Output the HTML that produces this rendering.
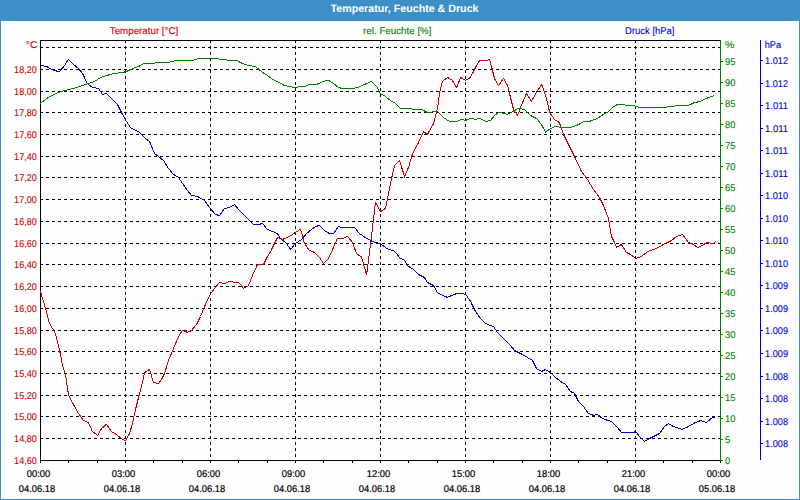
<!DOCTYPE html>
<html><head><meta charset="utf-8"><title>Temperatur, Feuchte &amp; Druck</title>
<style>
html,body{margin:0;padding:0;background:#fdfefd;overflow:hidden}
body{width:800px;height:500px;position:relative;font-family:"Liberation Sans",sans-serif;font-size:9.5px}
svg{position:absolute;left:0;top:0;display:block}
text{font-family:"Liberation Sans",sans-serif;font-size:9.8px;text-rendering:geometricPrecision}
.r{fill:#cc0000;stroke:#cc0000}.g{fill:#008000;stroke:#008000}.b{fill:#0000d0;stroke:#0000d0}.k{fill:#000;stroke:#000;stroke-width:0.2px}
text{stroke-width:0.1px}
.t{fill:#fff;font-weight:bold;font-size:10.7px}
</style></head><body>
<svg width="800" height="500" viewBox="0 0 800 500">
<rect x="0" y="0" width="800" height="500" fill="#fdfefd"/>
<g shape-rendering="crispEdges">
<rect x="0" y="0" width="800" height="21" fill="#3c8fc7"/>
<rect x="0" y="0" width="1" height="500" fill="#3c8fc7"/>
<rect x="799" y="0" width="1" height="500" fill="#3c8fc7"/>
<rect x="0" y="499" width="800" height="1" fill="#3c8fc7"/>
<path d="M40 438.5H720M40 416.5H720M40 395.5H720M40 373.5H720M40 351.5H720M40 330.5H720M40 308.5H720M40 286.5H720M40 264.5H720M40 243.5H720M40 221.5H720M40 199.5H720M40 177.5H720M40 156.5H720M40 134.5H720M40 112.5H720M40 91.5H720M40 69.5H720M40 47.5H720" stroke="#000" stroke-width="1" stroke-dasharray="3 3" fill="none"/>
<path d="M125.5 40V460M210.5 40V460M295.5 40V460M380.5 40V460M465.5 40V460M550.5 40V460M635.5 40V460" stroke="#000" stroke-width="1" stroke-dasharray="3 3" fill="none"/>
<path d="M40.5 40V461M40 40.5H720M40 460.5H721" stroke="#000" stroke-width="1" fill="none"/>
<path d="M40.5 460V463M68.5 460V463M97.5 460V463M125.5 460V463M153.5 460V463M182.5 460V463M210.5 460V463M238.5 460V463M267.5 460V463M295.5 460V463M323.5 460V463M352.5 460V463M380.5 460V463M408.5 460V463M437.5 460V463M465.5 460V463M493.5 460V463M522.5 460V463M550.5 460V463M578.5 460V463M607.5 460V463M635.5 460V463M663.5 460V463M692.5 460V463M720.5 460V463" stroke="#000" stroke-width="1" fill="none"/>
<path d="M720.5 40V460M720 460.5H723M720 439.5H723M720 418.5H723M720 397.5H723M720 376.5H723M720 355.5H723M720 334.5H723M720 313.5H723M720 292.5H723M720 271.5H723M720 250.5H723M720 229.5H723M720 208.5H723M720 187.5H723M720 166.5H723M720 145.5H723M720 124.5H723M720 103.5H723M720 82.5H723M720 61.5H723" stroke="#008000" stroke-width="1" fill="none"/>
<path d="M760.5 40V460M760 60.5H763M760 83.5H763M760 105.5H763M760 128.5H763M760 150.5H763M760 173.5H763M760 195.5H763M760 218.5H763M760 240.5H763M760 263.5H763M760 285.5H763M760 308.5H763M760 330.5H763M760 353.5H763M760 376.5H763M760 398.5H763M760 421.5H763M760 443.5H763" stroke="#0000d0" stroke-width="1" fill="none"/>
</g>
<polyline points="40.5,291.5 45.5,308.5 49.5,323.5 55.5,333.5 60.5,354.5 62.5,365.5 65.5,374.5 68.6,395.5 73.5,404.5 78.5,413.5 83.5,420.5 88.5,422.6 92.4,431.5 97.6,435.4 101.5,428.6 106.4,424.4 111.5,431.5 116.5,434.6 122.5,439.4 125.6,440.6 129.5,433.5 132.5,423.5 135.5,409.5 139.5,393.5 142.5,382.5 144.6,372.6 149.6,369.4 153.4,382.5 158.5,383.4 161.5,379.5 164.5,373.5 168.5,360.5 173.5,348.5 178.5,336.5 182.4,330.4 187.5,332.4 191.5,330.5 196.5,324.5 200.5,316.5 204.5,306.5 210.6,293.5 215.5,287.5 219.4,282.4 224.5,283.6 229.5,281.2 234.5,282.4 238.6,282.4 243.6,288.4 248.5,285.6 252.5,275.5 257.5,264.4 263.5,264.5 266.5,258.5 270.6,251.5 274.5,243.5 277.5,237.4 282.5,239.4 289.5,236.5 295.5,232.4 300.6,229.2 304.5,243.5 309.5,250.5 314.5,252.4 319.5,257.5 323.6,263.6 328.5,258.5 333.5,247.5 337.4,238.4 343.5,238.4 347.4,236.4 352.5,242.4 356.5,253.6 361.4,256.8 366.6,274.8 371.3,238.5 375.4,202.4 380.6,211.5 385.6,208.4 387.4,199.5 390.6,182.5 394.6,165.5 399.4,160.4 404.6,176.4 408.5,167.5 412.6,153.5 418.5,142.5 423.5,131.6 427.4,134.5 433.5,123.6 436.5,112.5 437.5,108.5 439.6,92.5 442.5,81.5 447.5,77.4 452.5,80.5 456.6,87.6 460.6,77.4 465.6,80.5 470.5,77.4 475.5,67.5 479.6,60.5 486.5,60.5 489.5,59.4 491.5,66.5 494.5,78.5 498.4,85.6 503.6,78.4 507.6,85.5 510.5,97.5 513.5,109.5 517.6,115.4 521.6,104.8 526.4,93.4 531.4,101.4 536.5,92.2 541.6,84.4 545.5,95.2 549.8,112.6 554.5,119.5 558.8,122.2 560.6,125.8 563.6,134.8 569.5,146.5 575.5,158.5 581.5,171.5 587.5,179.5 593.5,189.5 599.5,197.5 603.5,205.5 608.5,218.5 611.5,236.5 614.5,242.4 616.6,247.4 621.4,244.4 626.5,252.5 630.5,254.5 635.6,258.4 641.5,256.5 647.5,251.6 656.5,248.4 663.5,244.4 671.5,240.5 676.5,236.5 682.5,234.5 688.5,242.5 693.5,244.4 697.5,247.6 702.5,245.5 706.5,242.4 713.5,243.5 715.5,241.4" fill="none" stroke="#cc0000" stroke-width="1" shape-rendering="crispEdges"/>
<polyline points="40.5,103.5 46.5,98.6 51.5,95.6 58.5,92.4 64.5,90.5 73.5,88.5 82.5,85.6 88.5,83.5 94.5,81.5 100.5,77.6 106.5,75.6 113.5,73.5 122.5,72.5 126.5,71.5 132.5,68.6 138.5,66.5 144.5,63.4 152.5,63.4 158.5,62.4 168.5,62.5 176.5,60.4 192.5,60.5 195.5,59.4 200.5,58.4 216.5,58.4 220.5,59.4 225.5,59.4 228.5,60.4 236.5,60.4 242.5,63.5 248.5,65.4 255.5,66.6 261.5,71.6 267.5,75.5 272.5,79.4 277.5,81.6 284.5,85.5 289.5,86.5 295.5,87.6 299.5,86.6 305.5,86.4 309.5,84.4 316.5,84.4 323.5,81.4 328.5,80.4 333.5,83.5 338.5,87.6 342.5,88.4 353.5,88.4 357.5,87.5 364.5,84.5 371.5,81.4 376.5,86.4 380.5,93.6 385.5,96.5 391.5,101.5 394.5,102.4 400.5,108.4 410.5,108.4 413.5,109.4 421.5,109.4 427.5,112.5 437.5,111.4 443.5,117.5 449.5,121.5 456.5,121.5 461.5,119.5 465.5,120.4 470.6,118.4 475.5,119.4 479.5,118.4 485.5,121.4 490.5,120.5 495.5,114.5 499.5,112.4 507.5,114.5 512.5,111.6 518.5,108.4 524.5,109.4 530.5,115.5 536.5,118.5 541.5,124.5 545.6,132.4 550.5,128.5 555.5,126.5 562.5,127.4 570.5,127.4 576.5,125.5 584.5,121.4 589.5,121.4 597.5,118.4 603.5,114.4 608.5,111.6 612.5,107.5 617.5,104.4 623.5,104.4 626.5,105.4 633.5,105.4 639.5,107.4 665.5,107.4 668.5,106.4 674.5,106.4 676.5,105.4 688.5,105.4 694.5,102.6 700.5,101.4 706.5,98.4 711.5,96.5 714.4,95.4" fill="none" stroke="#008000" stroke-width="1" shape-rendering="crispEdges"/>
<polyline points="40.5,65.4 46.5,66.4 53.5,70.4 59.5,71.6 64.5,65.6 68.4,59.4 73.5,64.5 78.5,68.5 82.5,73.5 87.4,83.5 92.5,87.5 98.5,88.4 102.5,94.4 106.5,93.5 111.5,98.5 117.5,104.5 121.5,112.5 126.5,121.5 130.5,127.6 138.5,131.6 145.5,138.5 149.6,141.5 154.5,153.5 158.5,156.5 163.5,160.5 168.5,168.5 173.5,174.5 178.5,177.4 182.5,183.5 187.5,190.5 191.6,195.5 197.5,196.4 204.5,200.5 209.5,207.5 215.5,214.5 219.5,215.5 224.5,208.4 229.5,207.5 234.4,204.6 239.5,210.5 248.5,219.6 253.5,224.5 258.5,224.5 262.5,223.5 267.5,229.5 272.5,231.5 277.5,233.6 280.5,238.5 286.5,243.5 290.6,249.4 295.5,243.5 301.5,239.5 306.5,233.6 311.5,229.5 315.5,226.5 319.5,225.5 324.5,230.5 329.5,233.6 333.5,233.5 338.5,226.4 341.5,227.4 354.5,227.4 359.5,233.5 365.5,237.6 372.5,241.5 380.6,243.6 386.5,248.4 394.6,251.2 399.5,257.5 404.5,260.5 408.5,266.4 413.5,269.5 418.5,274.5 424.5,277.5 427.4,282.5 433.5,285.5 437.5,292.5 442.5,295.5 447.5,297.4 451.5,295.6 456.5,293.6 463.5,293.6 466.5,295.5 470.6,301.5 475.5,311.5 480.5,318.5 485.5,323.5 493.5,326.6 497.5,332.5 509.5,344.5 514.5,350.4 520.5,353.5 527.5,357.5 532.5,360.5 536.5,368.5 541.5,371.5 545.5,369.5 550.5,372.6 555.5,377.5 560.5,381.4 565.5,384.5 570.5,391.5 574.5,393.4 578.5,401.5 583.5,406.6 588.5,413.5 593.5,415.4 597.5,414.4 602.5,418.5 607.5,420.4 611.6,421.4 616.5,426.4 621.6,432.4 633.5,432.4 635.6,431.5 640.5,437.5 644.4,441.4 649.5,438.5 659.5,433.5 664.5,426.5 668.4,423.6 673.5,426.5 682.5,429.4 688.5,426.5 695.5,422.5 700.5,420.6 706.5,422.5 712.5,417.4 715.5,417.5" fill="none" stroke="#0000d0" stroke-width="1" shape-rendering="crispEdges"/>
<text class="t" x="404.5" y="12" text-anchor="middle" textLength="148" lengthAdjust="spacingAndGlyphs">Temperatur, Feuchte &amp; Druck</text>
<text class="r" x="144" y="33.8" text-anchor="middle" textLength="68.5" lengthAdjust="spacingAndGlyphs">Temperatur [°C]</text>
<text class="g" x="397.3" y="33.8" text-anchor="middle" textLength="68.4" lengthAdjust="spacingAndGlyphs">rel. Feuchte [%]</text>
<text class="b" x="649.8" y="33.8" text-anchor="middle" textLength="49.4" lengthAdjust="spacingAndGlyphs">Druck [hPa]</text>
<text class="r" x="37.3" y="47.8" text-anchor="end" textLength="11.5" lengthAdjust="spacingAndGlyphs">°C</text>
<text class="r" x="36.8" y="72.9" text-anchor="end" textLength="22.7" lengthAdjust="spacingAndGlyphs">18,20</text>
<text class="r" x="36.8" y="94.9" text-anchor="end" textLength="22.7" lengthAdjust="spacingAndGlyphs">18,00</text>
<text class="r" x="36.8" y="115.9" text-anchor="end" textLength="22.7" lengthAdjust="spacingAndGlyphs">17,80</text>
<text class="r" x="36.8" y="137.9" text-anchor="end" textLength="22.7" lengthAdjust="spacingAndGlyphs">17,60</text>
<text class="r" x="36.8" y="159.9" text-anchor="end" textLength="22.7" lengthAdjust="spacingAndGlyphs">17,40</text>
<text class="r" x="36.8" y="180.9" text-anchor="end" textLength="22.7" lengthAdjust="spacingAndGlyphs">17,20</text>
<text class="r" x="36.8" y="202.9" text-anchor="end" textLength="22.7" lengthAdjust="spacingAndGlyphs">17,00</text>
<text class="r" x="36.8" y="224.9" text-anchor="end" textLength="22.7" lengthAdjust="spacingAndGlyphs">16,80</text>
<text class="r" x="36.8" y="246.9" text-anchor="end" textLength="22.7" lengthAdjust="spacingAndGlyphs">16,60</text>
<text class="r" x="36.8" y="267.9" text-anchor="end" textLength="22.7" lengthAdjust="spacingAndGlyphs">16,40</text>
<text class="r" x="36.8" y="289.9" text-anchor="end" textLength="22.7" lengthAdjust="spacingAndGlyphs">16,20</text>
<text class="r" x="36.8" y="311.9" text-anchor="end" textLength="22.7" lengthAdjust="spacingAndGlyphs">16,00</text>
<text class="r" x="36.8" y="333.9" text-anchor="end" textLength="22.7" lengthAdjust="spacingAndGlyphs">15,80</text>
<text class="r" x="36.8" y="354.9" text-anchor="end" textLength="22.7" lengthAdjust="spacingAndGlyphs">15,60</text>
<text class="r" x="36.8" y="376.9" text-anchor="end" textLength="22.7" lengthAdjust="spacingAndGlyphs">15,40</text>
<text class="r" x="36.8" y="398.9" text-anchor="end" textLength="22.7" lengthAdjust="spacingAndGlyphs">15,20</text>
<text class="r" x="36.8" y="419.9" text-anchor="end" textLength="22.7" lengthAdjust="spacingAndGlyphs">15,00</text>
<text class="r" x="36.8" y="441.9" text-anchor="end" textLength="22.7" lengthAdjust="spacingAndGlyphs">14,80</text>
<text class="r" x="36.8" y="463.9" text-anchor="end" textLength="22.7" lengthAdjust="spacingAndGlyphs">14,60</text>
<text class="g" x="725" y="47.8" textLength="9.4" lengthAdjust="spacingAndGlyphs">%</text>
<text class="g" x="725" y="463.9" textLength="5.2" lengthAdjust="spacingAndGlyphs">0</text>
<text class="g" x="725" y="442.9" textLength="5.2" lengthAdjust="spacingAndGlyphs">5</text>
<text class="g" x="725" y="421.9" textLength="10.4" lengthAdjust="spacingAndGlyphs">10</text>
<text class="g" x="725" y="400.9" textLength="10.4" lengthAdjust="spacingAndGlyphs">15</text>
<text class="g" x="725" y="379.9" textLength="10.4" lengthAdjust="spacingAndGlyphs">20</text>
<text class="g" x="725" y="358.9" textLength="10.4" lengthAdjust="spacingAndGlyphs">25</text>
<text class="g" x="725" y="337.9" textLength="10.4" lengthAdjust="spacingAndGlyphs">30</text>
<text class="g" x="725" y="316.9" textLength="10.4" lengthAdjust="spacingAndGlyphs">35</text>
<text class="g" x="725" y="295.9" textLength="10.4" lengthAdjust="spacingAndGlyphs">40</text>
<text class="g" x="725" y="274.9" textLength="10.4" lengthAdjust="spacingAndGlyphs">45</text>
<text class="g" x="725" y="253.9" textLength="10.4" lengthAdjust="spacingAndGlyphs">50</text>
<text class="g" x="725" y="232.9" textLength="10.4" lengthAdjust="spacingAndGlyphs">55</text>
<text class="g" x="725" y="211.9" textLength="10.4" lengthAdjust="spacingAndGlyphs">60</text>
<text class="g" x="725" y="190.9" textLength="10.4" lengthAdjust="spacingAndGlyphs">65</text>
<text class="g" x="725" y="169.9" textLength="10.4" lengthAdjust="spacingAndGlyphs">70</text>
<text class="g" x="725" y="148.9" textLength="10.4" lengthAdjust="spacingAndGlyphs">75</text>
<text class="g" x="725" y="127.9" textLength="10.4" lengthAdjust="spacingAndGlyphs">80</text>
<text class="g" x="725" y="106.9" textLength="10.4" lengthAdjust="spacingAndGlyphs">85</text>
<text class="g" x="725" y="85.9" textLength="10.4" lengthAdjust="spacingAndGlyphs">90</text>
<text class="g" x="725" y="64.9" textLength="10.4" lengthAdjust="spacingAndGlyphs">95</text>
<text class="b" x="764.7" y="47.6" textLength="16.4" lengthAdjust="spacingAndGlyphs">hPa</text>
<text class="b" x="765.1" y="63.9" textLength="22.9" lengthAdjust="spacingAndGlyphs">1.012</text>
<text class="b" x="765.1" y="86.9" textLength="22.9" lengthAdjust="spacingAndGlyphs">1.012</text>
<text class="b" x="765.1" y="108.9" textLength="22.9" lengthAdjust="spacingAndGlyphs">1.011</text>
<text class="b" x="765.1" y="131.9" textLength="22.9" lengthAdjust="spacingAndGlyphs">1.011</text>
<text class="b" x="765.1" y="153.9" textLength="22.9" lengthAdjust="spacingAndGlyphs">1.011</text>
<text class="b" x="765.1" y="176.9" textLength="22.9" lengthAdjust="spacingAndGlyphs">1.011</text>
<text class="b" x="765.1" y="198.9" textLength="22.9" lengthAdjust="spacingAndGlyphs">1.010</text>
<text class="b" x="765.1" y="221.9" textLength="22.9" lengthAdjust="spacingAndGlyphs">1.010</text>
<text class="b" x="765.1" y="243.9" textLength="22.9" lengthAdjust="spacingAndGlyphs">1.010</text>
<text class="b" x="765.1" y="266.9" textLength="22.9" lengthAdjust="spacingAndGlyphs">1.010</text>
<text class="b" x="765.1" y="288.9" textLength="22.9" lengthAdjust="spacingAndGlyphs">1.009</text>
<text class="b" x="765.1" y="311.9" textLength="22.9" lengthAdjust="spacingAndGlyphs">1.009</text>
<text class="b" x="765.1" y="333.9" textLength="22.9" lengthAdjust="spacingAndGlyphs">1.009</text>
<text class="b" x="765.1" y="356.9" textLength="22.9" lengthAdjust="spacingAndGlyphs">1.009</text>
<text class="b" x="765.1" y="379.9" textLength="22.9" lengthAdjust="spacingAndGlyphs">1.008</text>
<text class="b" x="765.1" y="401.9" textLength="22.9" lengthAdjust="spacingAndGlyphs">1.008</text>
<text class="b" x="765.1" y="424.9" textLength="22.9" lengthAdjust="spacingAndGlyphs">1.008</text>
<text class="b" x="765.1" y="446.9" textLength="22.9" lengthAdjust="spacingAndGlyphs">1.008</text>
<text class="k" x="38.5" y="476.9" text-anchor="middle" textLength="23.4" lengthAdjust="spacingAndGlyphs">00:00</text>
<text class="k" x="37" y="491.8" text-anchor="middle" textLength="36.4" lengthAdjust="spacingAndGlyphs">04.06.18</text>
<text class="k" x="123.5" y="476.9" text-anchor="middle" textLength="23.4" lengthAdjust="spacingAndGlyphs">03:00</text>
<text class="k" x="122" y="491.8" text-anchor="middle" textLength="36.4" lengthAdjust="spacingAndGlyphs">04.06.18</text>
<text class="k" x="208.5" y="476.9" text-anchor="middle" textLength="23.4" lengthAdjust="spacingAndGlyphs">06:00</text>
<text class="k" x="207" y="491.8" text-anchor="middle" textLength="36.4" lengthAdjust="spacingAndGlyphs">04.06.18</text>
<text class="k" x="293.5" y="476.9" text-anchor="middle" textLength="23.4" lengthAdjust="spacingAndGlyphs">09:00</text>
<text class="k" x="292" y="491.8" text-anchor="middle" textLength="36.4" lengthAdjust="spacingAndGlyphs">04.06.18</text>
<text class="k" x="378.5" y="476.9" text-anchor="middle" textLength="23.4" lengthAdjust="spacingAndGlyphs">12:00</text>
<text class="k" x="377" y="491.8" text-anchor="middle" textLength="36.4" lengthAdjust="spacingAndGlyphs">04.06.18</text>
<text class="k" x="463.5" y="476.9" text-anchor="middle" textLength="23.4" lengthAdjust="spacingAndGlyphs">15:00</text>
<text class="k" x="462" y="491.8" text-anchor="middle" textLength="36.4" lengthAdjust="spacingAndGlyphs">04.06.18</text>
<text class="k" x="548.5" y="476.9" text-anchor="middle" textLength="23.4" lengthAdjust="spacingAndGlyphs">18:00</text>
<text class="k" x="547" y="491.8" text-anchor="middle" textLength="36.4" lengthAdjust="spacingAndGlyphs">04.06.18</text>
<text class="k" x="633.5" y="476.9" text-anchor="middle" textLength="23.4" lengthAdjust="spacingAndGlyphs">21:00</text>
<text class="k" x="632" y="491.8" text-anchor="middle" textLength="36.4" lengthAdjust="spacingAndGlyphs">04.06.18</text>
<text class="k" x="718.5" y="476.9" text-anchor="middle" textLength="23.4" lengthAdjust="spacingAndGlyphs">00:00</text>
<text class="k" x="717" y="491.8" text-anchor="middle" textLength="36.4" lengthAdjust="spacingAndGlyphs">05.06.18</text>
</svg>
</body></html>
